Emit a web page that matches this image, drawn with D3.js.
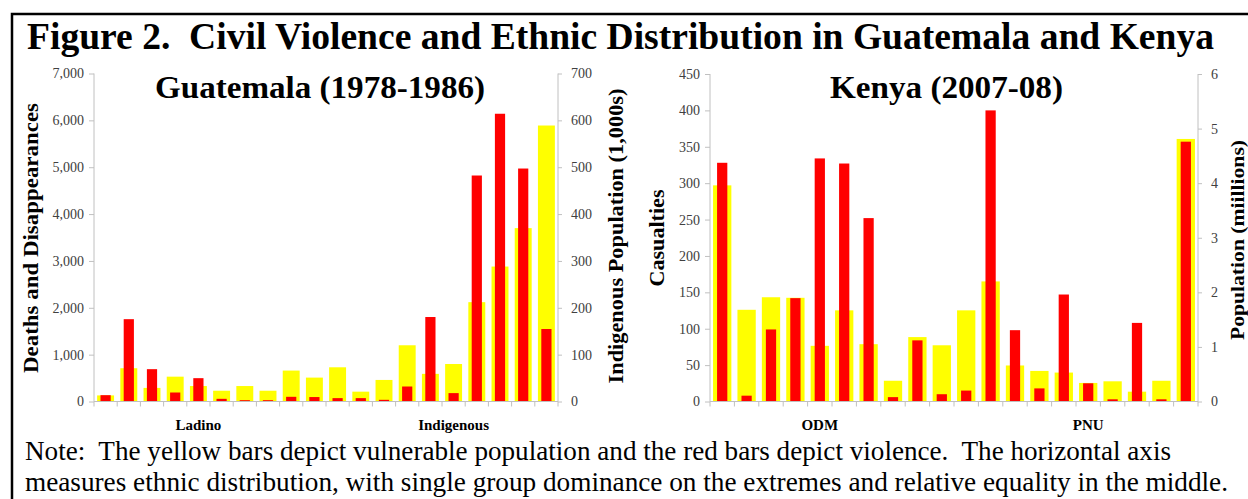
<!DOCTYPE html>
<html>
<head>
<meta charset="utf-8">
<script src="https://cdn.jsdelivr.net/npm/d3@7"></script>
<style>
  html, body { margin: 0; padding: 0; background: #fff; }
  svg { display: block; }
  svg text { font-family: 'Liberation Serif', 'Times New Roman', Times, serif !important; white-space: pre; }
</style>
</head>
<body>
<svg id="chart" width="1248" height="499"></svg>
<script>
// ---------------- DATA ----------------
const guatCategories = ["", "", "", "", "Ladino", "", "", "", "", "", "", "", "", "", "", "Indigenous", "", "", "", ""];
const guatDeaths = [135, 1757, 690, 192, 498, 57, 28, 28, 100, 95, 72, 72, 36, 320, 1803, 179, 4823, 6141, 4972, 1547];
const guatPopulation = [13, 71, 29, 53, 33, 23, 33, 23, 66, 51, 73, 21, 46, 120, 59, 80, 212, 288, 370, 589];
const guatLeftTicks = [0, 1000, 2000, 3000, 4000, 5000, 6000, 7000];
const guatRightTicks = [0, 100, 200, 300, 400, 500, 600, 700];

const kenyaCategories = ["", "", "", "", "ODM", "", "", "", "", "", "", "", "", "", "", "PNU", "", "", "", ""];
const kenyaCasualties = [328, 8, 99, 142, 334, 327, 252, 6, 84, 10, 15, 400, 98, 18, 147, 25, 3, 108, 3, 357];
const kenyaPopulation = [3.96, 1.68, 1.91, 1.90, 1.02, 1.67, 1.05, 0.38, 1.18, 1.03, 1.67, 2.20, 0.66, 0.56, 0.53, 0.34, 0.37, 0.18, 0.38, 4.81];
const kenyaLeftTicks = [0, 50, 100, 150, 200, 250, 300, 350, 400, 450];
const kenyaRightTicks = [0, 1, 2, 3, 4, 5, 6];

const figureTitle = "Figure 2.  Civil Violence and Ethnic Distribution in Guatemala and Kenya";
const noteLines = [
  "Note:  The yellow bars depict vulnerable population and the red bars depict violence.  The horizontal axis",
  "measures ethnic distribution, with single group dominance on the extremes and relative equality in the middle."
];

// ---------------- DRAW ----------------
const SERIF = "'Liberation Serif', 'Times New Roman', Times, serif";
const svg = d3.select("#chart");
const AXIS = "#c0c0c0", TICKTXT = "#404040";

// frame
svg.append("path")
  .attr("d", "M12,510 L12,14 L1260,14")
  .attr("fill", "none").attr("stroke", "#000").attr("stroke-width", 2.5);

svg.append("text")
  .attr("x", 27).attr("y", 49)
  .style("font-family", SERIF)
  .attr("font-size", 37).attr("font-weight", "bold")
  .attr("textLength", 1187).attr("lengthAdjust", "spacingAndGlyphs")
  .text(figureTitle);

const noteY = [460, 491], noteLen = [1146, 1203];
noteLines.forEach((t, i) => {
  svg.append("text")
    .attr("x", 25).attr("y", noteY[i])
    .style("font-family", SERIF)
    .attr("font-size", 27)
    .attr("textLength", noteLen[i]).attr("lengthAdjust", "spacingAndGlyphs")
    .text(t);
});

function panel(cfg) {
  const g = svg.append("g");
  const x = d3.scaleBand().domain(d3.range(cfg.cats.length)).range([cfg.x0, cfg.x1]).padding(0);
  const yL = d3.scaleLinear().domain([0, cfg.leftMax]).range([cfg.yBottom, cfg.yTop]);
  const yR = d3.scaleLinear().domain([0, cfg.rightMax]).range([cfg.yBottom, cfg.yTop]);
  const bw = x.bandwidth();

  // yellow bars (secondary axis)
  g.append("g").selectAll("rect").data(cfg.pop).join("rect")
    .attr("x", (d, i) => x(i) + bw * (1 - cfg.yw) / 2)
    .attr("width", bw * cfg.yw)
    .attr("y", d => yR(d))
    .attr("height", d => cfg.yBottom - yR(d))
    .attr("fill", "#ffff00");
  // red bars (primary axis)
  g.append("g").selectAll("rect").data(cfg.viol).join("rect")
    .attr("x", (d, i) => x(i) + bw * (1 - cfg.rw) / 2)
    .attr("width", bw * cfg.rw)
    .attr("y", d => yL(d))
    .attr("height", d => cfg.yBottom - yL(d))
    .attr("fill", "#ff0000");

  // left axis
  const la = g.append("g").attr("transform", `translate(${cfg.x0},0)`)
    .call(d3.axisLeft(yL).tickValues(cfg.leftTicks).tickSize(5).tickPadding(5).tickFormat(cfg.leftFmt));
  // right axis
  const ra = g.append("g").attr("transform", `translate(${cfg.x1},0)`)
    .call(d3.axisRight(yR).tickValues(cfg.rightTicks).tickSize(4).tickPadding(9).tickFormat(d3.format("d")));
  [la, ra].forEach(a => {
    a.attr("font-family", null);
    a.select(".domain").attr("stroke", AXIS).attr("d", `M0,${cfg.yBottom}V${cfg.yTop}`);
    a.selectAll(".tick line").attr("stroke", AXIS);
    a.selectAll(".tick text").attr("fill", TICKTXT).attr("font-size", 14)
      .style("font-family", SERIF);
  });

  // x axis
  const xa = g.append("g");
  xa.append("line").attr("x1", cfg.x0).attr("x2", cfg.x1)
    .attr("y1", cfg.yBottom).attr("y2", cfg.yBottom).attr("stroke", AXIS);
  const bounds = d3.range(cfg.cats.length + 1).map(i => i < cfg.cats.length ? x(i) : cfg.x1);
  xa.selectAll("line.tk").data(bounds).join("line").attr("class", "tk")
    .attr("x1", d => d).attr("x2", d => d)
    .attr("y1", cfg.yBottom).attr("y2", cfg.yBottom + 5).attr("stroke", AXIS);
  xa.selectAll("text").data(cfg.cats).join("text")
    .attr("x", (d, i) => x(i) + bw / 2).attr("y", cfg.yBottom + 28)
    .style("font-family", SERIF)
    .attr("text-anchor", "middle").attr("font-size", 15).attr("font-weight", "bold")
    .text(d => d);

  // panel title
  g.append("text").attr("x", cfg.titleX).attr("y", 98)
    .style("font-family", SERIF)
    .attr("font-size", 31).attr("font-weight", "bold")
    .attr("textLength", cfg.titleLen).attr("lengthAdjust", "spacingAndGlyphs")
    .text(cfg.title);

  // axis titles
  g.append("text")
    .attr("transform", `translate(${cfg.leftLabelX},${cfg.leftLabelY}) rotate(-90)`)
    .style("font-family", SERIF)
    .attr("text-anchor", "middle").attr("dominant-baseline", "central")
    .attr("font-size", 20).attr("font-weight", "bold")
    .attr("textLength", cfg.leftLabelLen).attr("lengthAdjust", "spacingAndGlyphs")
    .text(cfg.leftLabel);
  g.append("text")
    .attr("transform", `translate(${cfg.rightLabelX},${cfg.rightLabelY}) rotate(-90)`)
    .style("font-family", SERIF)
    .attr("text-anchor", "middle").attr("dominant-baseline", "central")
    .attr("font-size", cfg.rightLabelSize).attr("font-weight", "bold")
    .attr("textLength", cfg.rightLabelLen).attr("lengthAdjust", "spacingAndGlyphs")
    .text(cfg.rightLabel);
}

panel({
  cats: guatCategories, viol: guatDeaths, pop: guatPopulation,
  x0: 94, x1: 558, yTop: 73.5, yBottom: 401.5,
  leftMax: 7000, rightMax: 700, leftTicks: guatLeftTicks, rightTicks: guatRightTicks,
  leftFmt: d3.format(","), yw: 0.73, rw: 0.44,
  title: "Guatemala (1978-1986)", titleX: 155, titleLen: 330,
  leftLabel: "Deaths and Disappearances", leftLabelX: 31, leftLabelY: 238, leftLabelLen: 270,
  rightLabel: "Indigenous Population (1,000s)", rightLabelX: 616, rightLabelY: 236, rightLabelLen: 295, rightLabelSize: 20
});

panel({
  cats: kenyaCategories, viol: kenyaCasualties, pop: kenyaPopulation,
  x0: 710, x1: 1198, yTop: 74, yBottom: 401.5,
  leftMax: 450, rightMax: 6, leftTicks: kenyaLeftTicks, rightTicks: kenyaRightTicks,
  leftFmt: d3.format("d"), yw: 0.75, rw: 0.42,
  title: "Kenya (2007-08)", titleX: 830, titleLen: 233,
  leftLabel: "Casualties", leftLabelX: 657, leftLabelY: 238, leftLabelLen: 97,
  rightLabel: "Population (miillions)", rightLabelX: 1238, rightLabelY: 240, rightLabelLen: 200, rightLabelSize: 18
});
</script>
</body>
</html>
